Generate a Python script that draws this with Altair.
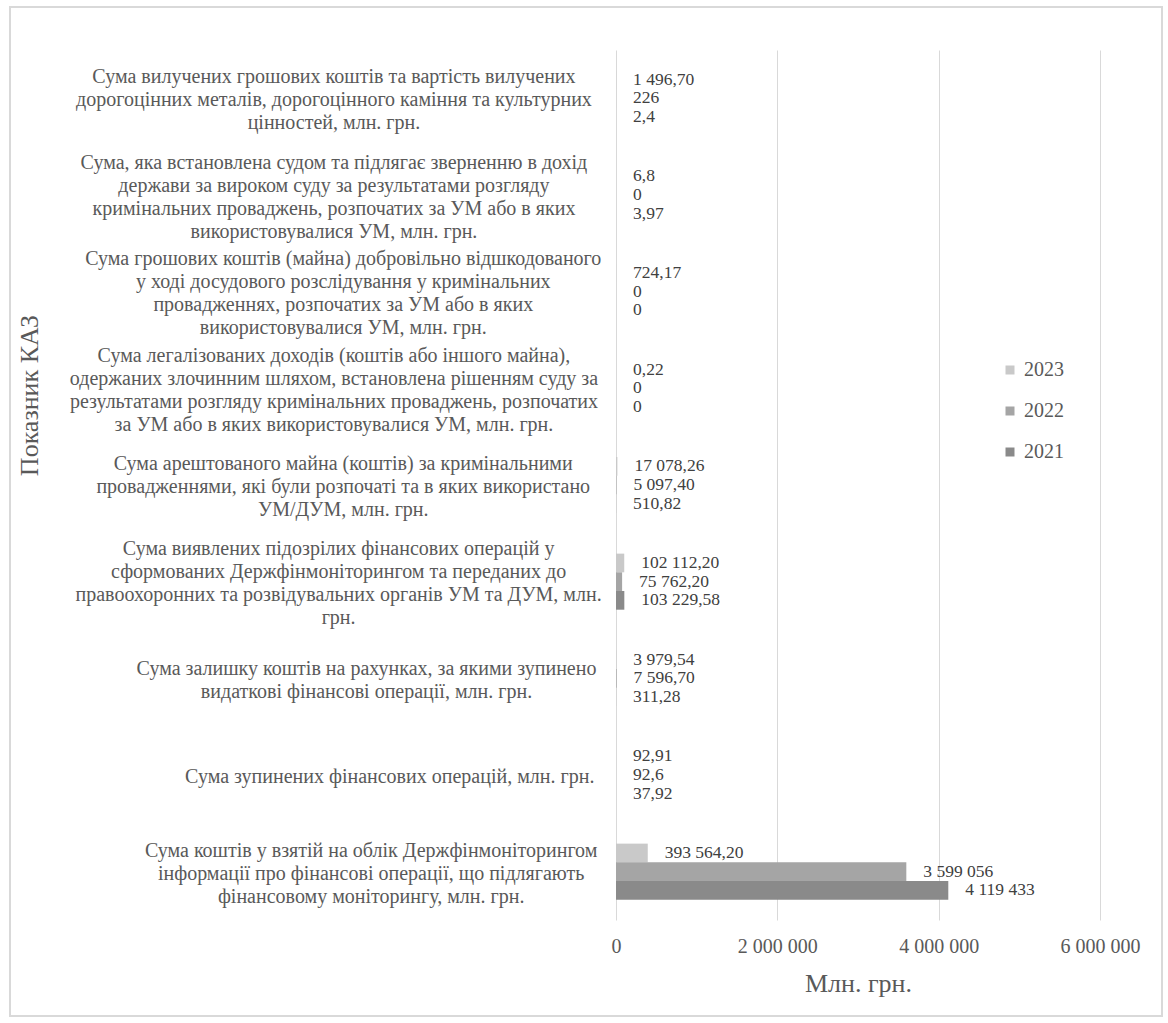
import altair as alt
import pandas as pd

# Indicator names (top to bottom), line breaks as printed
categories = [
    "Сума вилучених грошових коштів та вартість вилучених\nдорогоцінних металів, дорогоцінного каміння та культурних\nцінностей, млн. грн.",
    "Сума, яка встановлена судом та підлягає зверненню в дохід\nдержави за вироком суду за результатами розгляду\nкримінальних проваджень, розпочатих за УМ або в яких\nвикористовувалися УМ, млн. грн.",
    "Сума грошових коштів (майна) добровільно відшкодованого\nу ході досудового розслідування у кримінальних\nпровадженнях, розпочатих за УМ або в яких\nвикористовувалися УМ, млн. грн.",
    "Сума легалізованих доходів (коштів або іншого майна),\nодержаних злочинним шляхом, встановлена рішенням суду за\nрезультатами розгляду кримінальних проваджень, розпочатих\nза УМ або в яких використовувалися УМ, млн. грн.",
    "Сума арештованого майна (коштів) за кримінальними\nпровадженнями, які були розпочаті та в яких використано\nУМ/ДУМ, млн. грн.",
    "Сума виявлених підозрілих фінансових операцій у\nсформованих Держфінмоніторингом та переданих до\nправоохоронних та розвідувальних органів УМ та ДУМ, млн.\nгрн.",
    "Сума залишку коштів на рахунках, за якими зупинено\nвидаткові фінансові операції, млн. грн.",
    "Сума зупинених фінансових операцій, млн. грн.",
    "Сума коштів у взятій на облік Держфінмоніторингом\nінформації про фінансові операції, що підлягають\nфінансовому моніторингу, млн. грн.",
]

years = ["2023", "2022", "2021"]

# Values as printed (млн. грн.)
values_2023 = ["1 496,70", "6,8", "724,17", "0,22", "17 078,26", "102 112,20", "3 979,54", "92,91", "393 564,20"]
values_2022 = ["226", "0", "0", "0", "5 097,40", "75 762,20", "7 596,70", "92,6", "3 599 056"]
values_2021 = ["2,4", "3,97", "0", "0", "510,82", "103 229,58", "311,28", "37,92", "4 119 433"]

x_ticks = [0, 2000000, 4000000, 6000000]


def to_number(text):
    return float(text.replace(" ", "").replace(",", "."))


rows = []
for i, cat in enumerate(categories):
    for year, series in zip(years, [values_2023, values_2022, values_2021]):
        rows.append({"cat": cat, "year": year, "value": to_number(series[i]), "label": series[i]})
bars_df = pd.DataFrame(rows)

cat_df = pd.DataFrame({
    "cat": categories,
    "nchar": [max(len(line) for line in c.split("\n")) for c in categories],
})

FONT = "Liberation Serif"
TEXT = "#595959"
LINE_H = 23

PLOT_W, PLOT_H = 484, 870
PAD_INNER = 0.42
# half of one category band (a pixel offset is measured from the band's top edge)
HALF_BAND = PLOT_H / len(categories) * (1 - PAD_INNER) / 2

y_enc = alt.Y(
    "cat:N",
    sort=categories,
    scale=alt.Scale(paddingInner=PAD_INNER, paddingOuter=PAD_INNER / 2),
    axis=alt.Axis(
        labels=False, ticks=False, domain=False, grid=False,
        title="Показник КАЗ", titleFont=FONT, titleFontSize=26,
        titleFontWeight="normal", titleColor=TEXT,
        titleAngle=270, titleAlign="center", titleBaseline="middle",
        titleX=-587, titleY=345,
    ),
)
yoff_enc = alt.YOffset("year:N", sort=years, scale=alt.Scale(paddingInner=0, paddingOuter=0))

x_axis = alt.Axis(
    values=x_ticks,
    labelExpr="replace(replace(format(datum.value, ',.0f'), ',', ' '), ',', ' ')",
    labelFont=FONT, labelFontSize=20, labelColor=TEXT, labelPadding=16,
    labelFlush=False,
    ticks=False, domain=False,
    grid=True, gridColor="#d9d9d9", gridWidth=1,
    title="Млн. грн.", titleFont=FONT, titleFontSize=26,
    titleFontWeight="normal", titleColor=TEXT, titlePadding=14,
)

bars = alt.Chart(bars_df).mark_bar().encode(
    x=alt.X("value:Q", scale=alt.Scale(domain=[0, 6000000]), axis=x_axis),
    y=y_enc,
    yOffset=yoff_enc,
    color=alt.Color(
        "year:N",
        scale=alt.Scale(domain=years, range=["#c9c9c9", "#a5a5a5", "#8a8a8a"]),
        legend=alt.Legend(
            title=None, orient="none", legendX=384, legendY=310,
            symbolType="square", symbolSize=81, symbolStrokeWidth=0,
            labelFont=FONT, labelFontSize=20, labelColor=TEXT,
            labelOffset=4, rowPadding=21,
        ),
    ),
)

value_labels = alt.Chart(bars_df).mark_text(
    align="left", baseline="middle", dx=17, font=FONT, fontSize=17.5, color="#404040"
).encode(
    x=alt.X("value:Q"),
    y=y_enc,
    yOffset=yoff_enc,
    text="label:N",
)

# Category names: each block right-aligned to the axis, lines centred inside
# the block, and the block centred vertically on its band
cat_labels = alt.Chart(cat_df).mark_text(
    align="center", baseline="middle",
    font=FONT, fontSize=20, lineHeight=LINE_H, color=TEXT,
).transform_calculate(
    lx="-17 - datum.nchar * 4.65",
    lines="split(datum.cat, '\\n')",
).transform_calculate(
    ly=f"{HALF_BAND + 2} - (length(datum.lines) - 1) * {LINE_H / 2}",
).encode(
    x=alt.X("lx:Q", scale=None, axis=None),
    y=y_enc,
    yOffset=alt.YOffset("ly:Q", scale=None),
    text="lines:N",
)

frame = alt.Chart(pd.DataFrame({"k": [0]})).mark_rect(
    fillOpacity=0, stroke="#d9d9d9", strokeWidth=2
).encode(
    x=alt.value(-606), x2=alt.value(546), y=alt.value(-43), y2=alt.value(966)
)

chart = alt.layer(frame, bars, value_labels, cat_labels).properties(
    width=PLOT_W,
    height=PLOT_H,
    autosize=alt.AutoSizeParams(type="none"),
    padding={"left": 616, "top": 50, "right": 68, "bottom": 103},
    background="white",
).configure(
    font=FONT,
    view=alt.ViewConfig(stroke="transparent"),
)

chart.save("out.html", embed_options={"renderer": "svg", "actions": False})
